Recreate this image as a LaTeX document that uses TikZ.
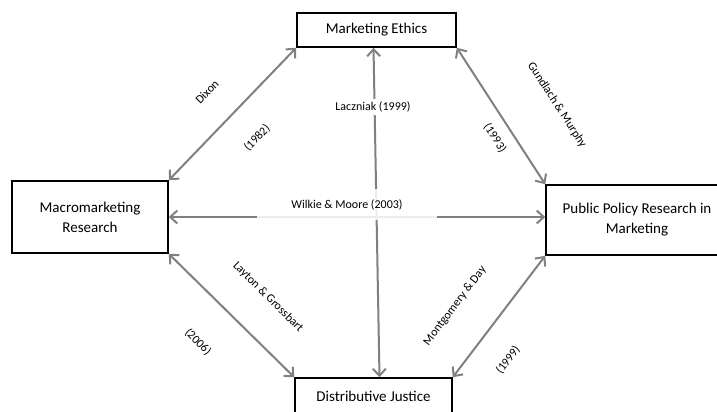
\documentclass[tikz,border=0pt]{standalone}
\usepackage{fontspec}
\setmainfont{Carlito}
\usetikzlibrary{arrows.meta}
\definecolor{arrowgray}{RGB}{128,128,128}

\begin{document}
\begin{tikzpicture}[x=1pt, y=-1pt,
    field/.style={draw, line width=1.6pt, align=center, font=\fontsize{15}{20}\selectfont},
    link/.style={draw=arrowgray, line width=2pt, {Straight Barb[length=7pt,width=13pt]}-{Straight Barb[length=7pt,width=13pt]}},
    cite/.style={font=\fontsize{12}{14}\selectfont, inner sep=1pt}]
    \useasboundingbox (0,0) rectangle (717,412);
    % research fields
    \node[field, minimum width=159pt, minimum height=34pt] (ethics) at (376.5,30) {Marketing Ethics};
    \node[field, minimum width=156pt, minimum height=72pt] (macro) at (90,217) {Macromarketing\\Research};
    \node[field, minimum width=182pt, minimum height=70pt] (policy) at (637,220) {Public Policy Research in\\Marketing};
    \node[field, minimum width=157pt, minimum height=36pt] (justice) at (373.5,396) {Distributive Justice};
    % links between fields
    \draw[link] (macro.north east) -- (ethics.south west);
    \draw[link] (ethics.south east) -- (policy.north west);
    \draw[link] (macro.south east) -- (justice.north west);
    \draw[link] (justice.north east) -- (policy.south west);
    \draw[link] ([xshift=-3pt]ethics.south) -- ([xshift=6pt]justice.north);
    \draw[link] (macro.east) -- (policy.west |- macro.east);
    % citations
    \node[cite, rotate=46] (dixon) at (207,92) {Dixon};
    \node[cite, rotate=46] (dixonyr) at (257,138) {(1982)};
    \node[cite, rotate=-57] (gundlach) at (557,105) {Gundlach \& Murphy};
    \node[cite, rotate=-57] (gundlachyr) at (495,138) {(1993)};
    \node[cite, rotate=-45] (layton) at (268,297) {Layton \& Grossbart};
    \node[cite, rotate=-45] (laytonyr) at (198,342) {(2006)};
    \node[cite, rotate=53] (montgomery) at (455,306) {Montgomery \& Day};
    \node[cite, rotate=53] (montgomeryyr) at (508,360) {(1999)};
    \node[cite, fill=white, inner sep=3pt] (laczniak) at (373,107) {Laczniak (1999)};
    \node[cite, fill=white, fill opacity=0.85, text opacity=1, minimum width=180pt, minimum height=31pt] (wilkie) at (347,204.5) {Wilkie \& Moore (2003)};
\end{tikzpicture}
\end{document}
